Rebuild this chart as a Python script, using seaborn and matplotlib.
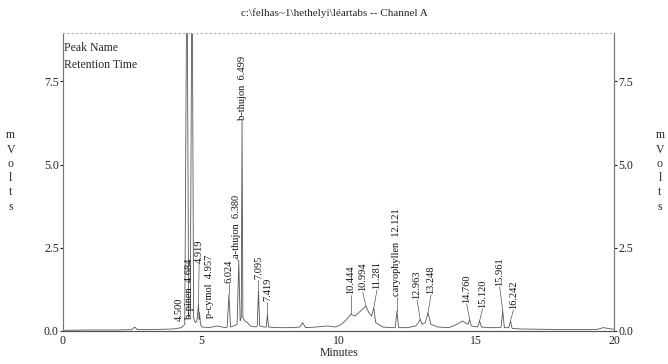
import numpy as np
import matplotlib
matplotlib.use("Agg")
import matplotlib.pyplot as plt
import seaborn as sns

# chromatogram trace (minutes, mV)
trace_time = [0, 1.0, 2.0, 2.5, 2.6, 2.7, 3.5, 4.0, 4.3, 4.42, 4.50, 4.56, 4.62, 4.684,
              4.74, 4.80, 4.86, 4.919, 4.94, 4.957, 4.99, 5.05, 5.3, 5.6, 5.9, 5.96,
              6.024, 6.08, 6.2, 6.32, 6.380, 6.43, 6.47, 6.499, 6.53, 6.6, 6.7, 6.8,
              7.0, 7.05, 7.095, 7.14, 7.3, 7.38, 7.419, 7.46, 7.8, 8.3, 8.6, 8.7, 8.8,
              9.2, 9.6, 9.9, 10.1, 10.3, 10.444, 10.6, 10.8, 10.994, 11.1, 11.2, 11.281,
              11.35, 11.6, 11.9, 12.06, 12.121, 12.18, 12.5, 12.8, 12.9, 12.963, 13.03,
              13.15, 13.248, 13.35, 13.6, 14.0, 14.3, 14.5, 14.7, 14.760, 14.82, 15.05,
              15.120, 15.19, 15.5, 15.85, 15.9, 15.961, 16.02, 16.18, 16.242, 16.3,
              16.6, 17.5, 18.5, 19.4, 19.6, 20.0]
trace_mv = [0.02, 0.03, 0.03, 0.04, 0.12, 0.04, 0.05, 0.06, 0.1, 0.2, 12.0, 0.4, 0.5, 12.0,
            0.4, 0.25, 0.3, 0.8, 0.35, 0.55, 0.2, 0.12, 0.1, 0.15, 0.1, 0.12,
            1.1, 0.12, 0.15, 0.2, 2.1, 0.3, 0.4, 6.25, 0.4, 0.3, 0.25, 0.15,
            0.12, 0.15, 1.2, 0.15, 0.12, 0.12, 0.5, 0.12, 0.1, 0.1, 0.12, 0.25, 0.1,
            0.12, 0.15, 0.12, 0.2, 0.35, 0.5, 0.45, 0.6, 0.75, 0.55, 0.45, 0.7,
            0.25, 0.12, 0.1, 0.1, 0.6, 0.1, 0.1, 0.15, 0.25, 0.35, 0.2,
            0.25, 0.55, 0.2, 0.12, 0.1, 0.2, 0.3, 0.2, 0.35, 0.15, 0.12,
            0.3, 0.12, 0.1, 0.1, 0.12, 0.6, 0.1, 0.1, 0.3, 0.08,
            0.06, 0.05, 0.04, 0.05, 0.1, 0.05]

# peak annotations
peak_rt = [4.500, 4.684, 4.919, 4.957, 6.024, 6.380, 6.499, 7.095, 7.419, 10.444,
           10.994, 11.281, 12.121, 12.963, 13.248, 14.760, 15.120, 15.961, 16.242]
peak_name = ["", "b-pinen", "", "p-cymol", "", "a-thujon", "b-thujon", "", "", "",
             "", "", "caryophyllen", "", "", "", "", "", ""]
label_mv = [0.3, 0.36, 2.05, 0.4, 1.45, 2.2, 6.35, 1.57, 0.9, 1.12,
            1.2, 1.27, 1.06, 0.97, 1.12, 0.85, 0.7, 1.36, 0.67]
# where each label sits along the time axis (crowded ones pushed apart)
label_x = [4.22, 4.58, 4.94, 5.30, 6.024, 6.31, 6.50, 7.095, 7.419, 10.444,
           10.88, 11.40, 12.121, 12.85, 13.36, 14.65, 15.23, 15.85, 16.35]

y_ticks = [0.0, 2.5, 5.0, 7.5]
x_ticks = [0, 5, 10, 15, 20]

sns.set_style("white")
plt.rcParams['font.family'] = ['Liberation Serif', 'DejaVu Serif']

fig = plt.figure(figsize=(6.68, 3.64), dpi=100)
ax = fig.add_axes([0.0943, 0.0907, 0.8249, 0.8186])

sns.lineplot(x=trace_time, y=trace_mv, ax=ax, color="#555555", linewidth=0.6,
             estimator=None, sort=False)
ax.axhline(-0.08, color="#999999", lw=0.6, ls=(0, (4, 3)))

for rt, name, ly, lx in zip(peak_rt, peak_name, label_mv, label_x):
    top = float(np.interp(rt, trace_time, trace_mv))
    if top < ly - 0.05:
        ax.plot([rt, lx], [top, ly - 0.03], color="#555555", lw=0.5)
    txt = f"{name}  {rt:.3f}" if name else f"{rt:.3f}"
    ax.text(lx, ly, txt, rotation=90, ha="center", va="bottom",
            fontsize=7.5, color="#111111")

ax.text(0.05, 8.5, "Peak Name", fontsize=8.5, va="center")
ax.text(0.05, 8.0, "Retention Time", fontsize=8.5, va="center")

ax.set_xlim(0, 20)
ax.set_ylim(0, 8.95)
ax.set_xticks(x_ticks)
ax.set_xticklabels([str(v) for v in x_ticks])
ax.set_yticks(y_ticks)
ax.set_yticklabels([f"{v:.1f}" for v in y_ticks])
ax.tick_params(axis="both", labelsize=8.5, length=2, pad=1, colors="#222222")
ax.set_xlabel("Minutes", fontsize=8.5, labelpad=0)
ax.set_ylabel("")

ax2 = ax.twinx()
ax2.set_ylim(ax.get_ylim())
ax2.set_yticks(y_ticks)
ax2.set_yticklabels([f"{v:.1f}" for v in y_ticks])
ax2.tick_params(axis="y", labelsize=8.5, length=2, pad=1, colors="#222222")

for a in (ax, ax2):
    a.spines["top"].set_color("#bbbbbb")
    a.spines["top"].set_linestyle((0, (1, 3)))
    a.spines["left"].set_color("#777777")
    a.spines["right"].set_color("#777777")
    a.spines["bottom"].set_color("#555555")
    for s in a.spines.values():
        s.set_linewidth(0.8)

fig.text(0.5, 0.965, "c:\\felhas~1\\hethelyi\\léartabs -- Channel A",
         ha="center", va="center", fontsize=8)
fig.text(0.016, 0.53, "m\nV\no\nl\nt\ns", ha="center", va="center",
         fontsize=8.5, linespacing=1.25)
fig.text(0.988, 0.53, "m\nV\no\nl\nt\ns", ha="center", va="center",
         fontsize=8.5, linespacing=1.25)

fig.savefig("out.png", dpi=100)
